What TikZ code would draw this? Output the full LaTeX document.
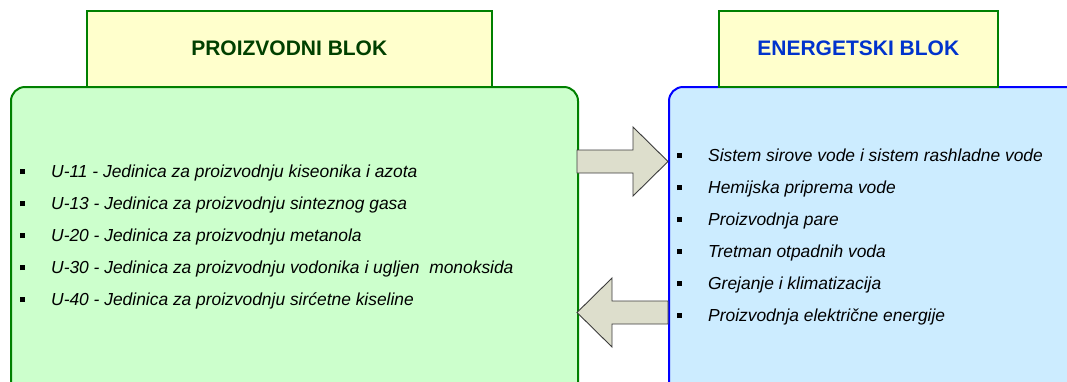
\documentclass[tikz,border=0pt]{standalone}
\usepackage{fontspec}
\setmainfont{Liberation Sans}
\definecolor{gboxfill}{RGB}{204,255,204}
\definecolor{gboxline}{RGB}{0,128,0}
\definecolor{bboxfill}{RGB}{204,236,255}
\definecolor{bboxline}{RGB}{0,0,255}
\definecolor{tfill}{RGB}{255,255,204}
\definecolor{ttextg}{RGB}{0,64,0}
\definecolor{ttextb}{RGB}{0,51,204}
\definecolor{arrfill}{RGB}{221,222,204}
\definecolor{arrline}{RGB}{60,60,60}
\tikzset{
  bigbox/.style={draw, line width=2pt, rounded corners=14pt, anchor=north west, inner sep=0pt},
  titlebox/.style={draw=gboxline, fill=tfill, line width=1.5pt, anchor=north west, inner sep=0pt, font=\fontsize{21}{25}\selectfont\bfseries},
  fatarrow/.style={draw=arrline, fill=arrfill, line width=0.9pt, line join=miter},
  item/.style={anchor=base west, inner sep=0pt, font=\fontsize{17.4}{20}\selectfont\itshape},
}
\newcommand{\sqbullet}{\makebox[31.5pt][l]{\rule[3.5pt]{5pt}{5pt}}}
\begin{document}
\begin{tikzpicture}[x=1pt,y=-1pt]
\useasboundingbox (0,0) rectangle (1067,381);
\clip (0,0) rectangle (1067,381);
% big boxes
\node[bigbox, draw=gboxline, fill=gboxfill, minimum width=567pt, minimum height=320pt] (prod) at (10,86) {};
\node[bigbox, draw=bboxline, fill=bboxfill, minimum width=430pt, minimum height=320pt] (ener) at (668,86) {};
% titles
\node[titlebox, text=ttextg, minimum width=405pt, minimum height=76pt] (ptitle) at (86,10) {PROIZVODNI BLOK};
\node[titlebox, text=ttextb, minimum width=279pt, minimum height=76pt] (etitle) at (718,10) {ENERGETSKI BLOK};
% arrows
\coordinate (a1s) at (577,150);
\coordinate (a1t) at (668,161.5);
\draw[fatarrow] (a1s) -- (633,150) -- (633,127) -- (a1t) -- (633,196) -- (633,173) -- (577,173) -- cycle;
\coordinate (a2s) at (668,301);
\coordinate (a2t) at (577,312.5);
\draw[fatarrow] (a2s) -- (612,301) -- (612,278) -- (a2t) -- (612,347) -- (612,324) -- (668,324) -- cycle;
% left items
\foreach \t [count=\i from 0] in {%
  {U-11 - Jedinica za proizvodnju kiseonika i azota},
  {U-13 - Jedinica za proizvodnju sinteznog gasa},
  {U-20 - Jedinica za proizvodnju metanola},
  {U-30 - Jedinica za proizvodnju vodonika i ugljen\ \ monoksida},
  {U-40 - Jedinica za proizvodnju sirćetne kiseline}}
  \node[item] (p\i) at (19.5,177.5+32*\i) {\sqbullet\t};
% right items
\foreach \t [count=\i from 0] in {%
  {Sistem sirove vode i sistem rashladne vode},
  {Hemijska priprema vode},
  {Proizvodnja pare},
  {Tretman otpadnih voda},
  {Grejanje i klimatizacija},
  {Proizvodnja električne energije}}
  \node[item] (e\i) at (676.5,161.5+32*\i) {\sqbullet\t};
\end{tikzpicture}
\end{document}
